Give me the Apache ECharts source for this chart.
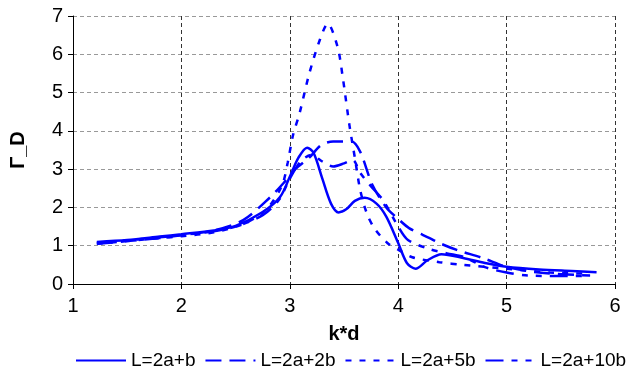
<!DOCTYPE html>
<html>
<head>
<meta charset="utf-8">
<script src="https://cdn.jsdelivr.net/npm/echarts@6/dist/echarts.min.js"></script>
<style>
  html, body { margin: 0; padding: 0; background: #fff; }
  #chart { width: 633px; height: 371px; }
</style>
</head>
<body>
<div id="chart"></div>
<script>
// L=2a+b (solid)
const kdB = [1.22, 1.5, 1.8, 2.0, 2.3, 2.5, 2.75, 2.91, 3.0, 3.08, 3.16, 3.22, 3.3, 3.38, 3.45, 3.52, 3.6, 3.69, 3.8, 3.89, 4.0, 4.08, 4.16, 4.27, 4.4, 4.6, 4.8, 5.0, 5.3, 5.6, 5.83];
const gB  = [1.1, 1.15, 1.24, 1.3, 1.4, 1.52, 1.88, 2.27, 2.8, 3.3, 3.56, 3.42, 2.75, 2.1, 1.87, 1.95, 2.17, 2.25, 2.1, 1.76, 1.07, 0.55, 0.4, 0.62, 0.78, 0.68, 0.55, 0.45, 0.38, 0.34, 0.31];

// L=2a+2b (dashed)
const kd2B = [1.22, 1.5, 1.8, 2.0, 2.3, 2.57, 2.82, 2.95, 3.05, 3.18, 3.29, 3.4, 3.57, 3.65, 3.76, 3.89, 4.0, 4.1, 4.29, 4.38, 4.54, 4.78, 5.0, 5.3, 5.77];
const g2B  = [1.05, 1.12, 1.2, 1.27, 1.4, 1.67, 2.27, 2.66, 3.0, 3.3, 3.63, 3.72, 3.72, 3.45, 2.6, 2.0, 1.7, 1.46, 1.2, 1.07, 0.89, 0.68, 0.45, 0.3, 0.22];

// L=2a+5b (dotted)
const kd5B = [1.22, 1.5, 1.8, 2.0, 2.3, 2.6, 2.8, 2.93, 2.98, 3.03, 3.09, 3.18, 3.28, 3.35, 3.44, 3.49, 3.55, 3.6, 3.65, 3.71, 3.78, 3.9, 4.0, 4.13, 4.38, 4.6, 5.0, 5.4, 5.77];
const g5B  = [1.05, 1.12, 1.2, 1.25, 1.35, 1.6, 2.0, 2.59, 3.16, 3.89, 4.46, 5.5, 6.4, 6.8, 6.2, 5.37, 4.15, 3.3, 2.45, 1.85, 1.46, 1.07, 0.9, 0.7, 0.57, 0.5, 0.4, 0.3, 0.27];

// L=2a+10b (dash-dot)
const kd10B = [1.22, 1.5, 1.8, 2.0, 2.3, 2.5, 2.75, 2.9, 3.0, 3.1, 3.2, 3.3, 3.4, 3.5, 3.58, 3.65, 3.75, 3.86, 4.0, 4.09, 4.29, 4.45, 4.61, 4.8, 5.0, 5.2, 5.5, 5.77];
const g10B  = [1.08, 1.14, 1.22, 1.28, 1.38, 1.5, 1.8, 2.2, 2.75, 3.2, 3.37, 3.2, 3.07, 3.15, 3.24, 2.9, 2.55, 2.19, 1.5, 1.15, 0.91, 0.8, 0.7, 0.44, 0.3, 0.22, 0.21, 0.21];

const xTicks = [1, 6, 1];   // min, max, step
const yTicks = [0, 7, 1];

const FONT = "Liberation Sans";
const BLUE = "#0000ff";

function pairs(xs, ys) {
  return xs.map((x, i) => [x, ys[i]]);
}

function lineSeries(name, xs, ys, dash) {
  return {
    name: name,
    type: "line",
    data: pairs(xs, ys),
    smooth: 0.3,
    symbol: "none",
    lineStyle: { color: BLUE, width: 2.5, type: dash },
    itemStyle: { color: BLUE },
  };
}

const chart = echarts.init(document.getElementById("chart"));
chart.setOption({
  animation: false,
  textStyle: { fontFamily: FONT },
  grid: { left: 73, right: 18, top: 16, bottom: 87, containLabel: false },
  legend: {
    left: 70,
    top: 346,
    itemWidth: 50,
    itemHeight: 14,
    itemGap: 9,
    itemStyle: { opacity: 0, borderWidth: 0 },
    textStyle: { fontFamily: FONT, fontSize: 19, color: "#000" },
    data: ["L=2a+b", "L=2a+2b", "L=2a+5b", "L=2a+10b"],
  },
  xAxis: {
    type: "value",
    min: xTicks[0],
    max: xTicks[1],
    interval: xTicks[2],
    name: "k*d",
    nameLocation: "middle",
    nameGap: 40,
    nameTextStyle: { fontFamily: FONT, fontSize: 20, fontWeight: "bold", color: "#000" },
    axisLine: { lineStyle: { color: "#000", width: 1 } },
    axisTick: { show: true, length: 5, lineStyle: { color: "#000" } },
    axisLabel: { fontFamily: FONT, fontSize: 20, color: "#000", margin: 12 },
    splitLine: { show: true, lineStyle: { color: "#333", type: [4, 3], width: 1 } },
  },
  yAxis: {
    type: "value",
    min: yTicks[0],
    max: yTicks[1],
    interval: yTicks[2],
    name: "Γ_D",
    nameLocation: "middle",
    nameGap: 45,
    nameTextStyle: { fontFamily: FONT, fontSize: 20, fontWeight: "bold", color: "#000" },
    axisLine: { show: true, lineStyle: { color: "#000", width: 1 } },
    axisTick: { show: true, length: 5, lineStyle: { color: "#000" } },
    axisLabel: { fontFamily: FONT, fontSize: 20, color: "#000", margin: 10 },
    splitLine: { show: true, lineStyle: { color: "#999", type: [4, 3], width: 1 } },
  },
  series: [
    lineSeries("L=2a+b", kdB, gB, "solid"),
    lineSeries("L=2a+2b", kd2B, g2B, [16, 8]),
    lineSeries("L=2a+5b", kd5B, g5B, [6, 8]),
    lineSeries("L=2a+10b", kd10B, g10B, [18, 8, 6, 8, 6, 8]),
  ],
});
</script>
</body>
</html>
